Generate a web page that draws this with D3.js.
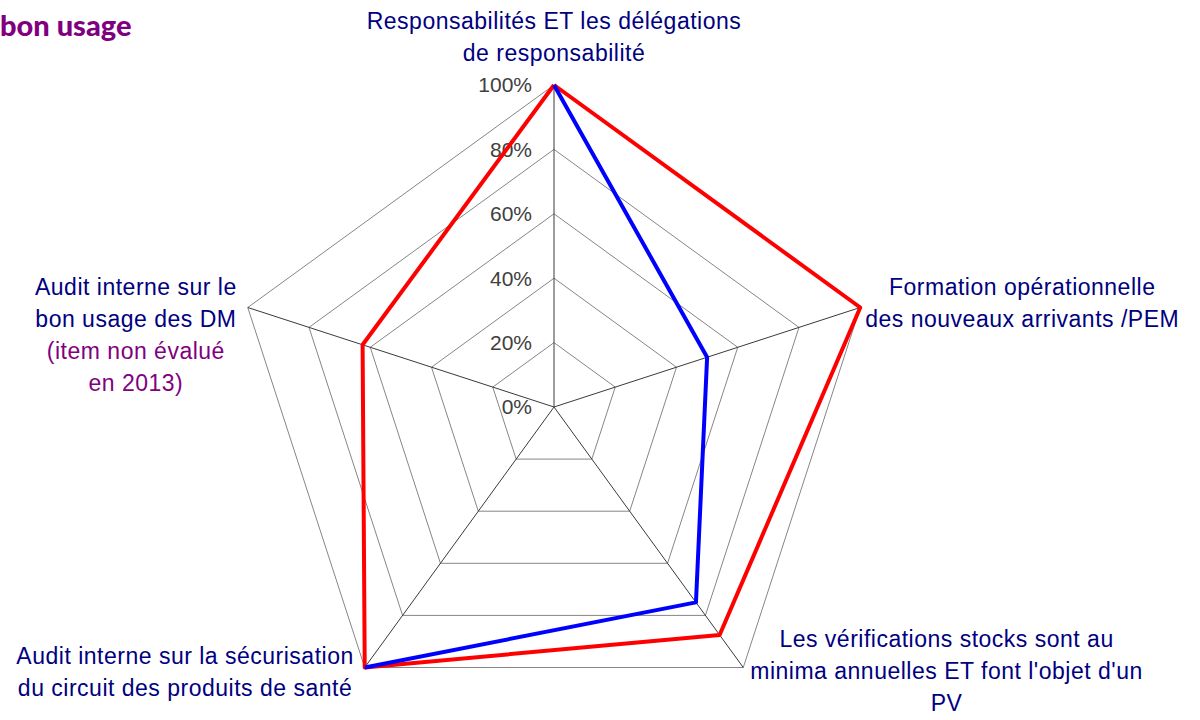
<!DOCTYPE html>
<html>
<head>
<meta charset="utf-8">
<script src="https://cdn.jsdelivr.net/npm/d3@7"></script>
<style>
  body { margin: 0; background: #fff; }
  svg { display: block; }
</style>
</head>
<body>
<div id="chart"></div>
<script>
(function (d3) {

  // axes of the radar, one entry per spoke (clockwise from the top)
  var axisLabels = [
    ["Responsabilités ET les délégations", "de responsabilité"],
    ["Formation opérationnelle", "des nouveaux arrivants /PEM"],
    ["Les vérifications stocks sont au", "minima annuelles ET font l'objet d'un", "PV"],
    ["Audit interne sur la sécurisation", "du circuit des produits de santé"],
    ["Audit interne sur le", "bon usage des DM"]
  ];
  var axisNotes = [[], [], [], [], ["(item non évalué", "en 2013)"]];

  // series values (share of the target reached), null = not evaluated
  var redValues = [1, 1, 0.875, 1, 0.625];
  var blueValues = [1, 0.5, 0.75, 1, null];

  var tickValues = [0, 0.2, 0.4, 0.6, 0.8, 1];
  var titleText = "bon usage";

  // layout
  var width = 1200;
  var height = 720;
  var cx = 554;
  var cy = 407;
  var radius = 322;
  var lineHeight = 32;
  var navy = "#000080";
  var purple = "#800080";

  var n = axisLabels.length;
  var r = d3.scaleLinear().domain([0, 1]).range([0, radius]);
  var angle = function (i) { return i * 2 * Math.PI / n; };
  var pct = d3.format(".0%");

  var svg = d3.select('#chart')
      .append('svg')
      .attr('width', width)
      .attr('height', height);

  var g = svg.append('g')
      .attr('transform', 'translate(' + cx + ',' + cy + ')');

  // grid rings
  var ring = d3.lineRadial()
      .angle(function (d, i) { return angle(i); })
      .radius(function (d) { return r(d); })
      .curve(d3.curveLinearClosed);

  g.selectAll('.ring')
      .data(tickValues.filter(function (t) { return t > 0; }))
      .enter()
      .append('path')
      .attr('class', 'ring')
      .attr('d', function (t) { return ring(d3.range(n).map(function () { return t; })); })
      .attr('fill', 'none')
      .attr('stroke', '#868686')
      .attr('stroke-width', 1);

  // spokes
  g.selectAll('.spoke')
      .data(d3.range(n))
      .enter()
      .append('line')
      .attr('class', 'spoke')
      .attr('x1', 0)
      .attr('y1', 0)
      .attr('x2', function (i) { return r(1) * Math.sin(angle(i)); })
      .attr('y2', function (i) { return -r(1) * Math.cos(angle(i)); })
      .attr('stroke', '#3a3a3a')
      .attr('stroke-width', 1);

  // tick labels along the top spoke
  g.selectAll('.tick')
      .data(tickValues)
      .enter()
      .append('text')
      .attr('class', 'tick')
      .attr('x', -22)
      .attr('y', function (t) { return -r(t); })
      .attr('dy', '0.35em')
      .attr('text-anchor', 'end')
      .attr('font-family', 'Liberation Sans, Arial, sans-serif')
      .attr('font-size', 21)
      .attr('fill', '#404040')
      .text(pct);

  // series
  var line = d3.lineRadial()
      .defined(function (d) { return d.v != null; })
      .angle(function (d) { return angle(d.i); })
      .radius(function (d) { return r(d.v); });

  function closedPoints(values) {
    var pts = values.map(function (v, i) { return { i: i, v: v }; });
    return pts.concat([{ i: n, v: values[0] }]);
  }

  [[redValues, '#ff0000'], [blueValues, '#0000ff']].forEach(function (s) {
    g.append('path')
        .attr('d', line(closedPoints(s[0])))
        .attr('fill', 'none')
        .attr('stroke', s[1])
        .attr('stroke-width', 4)
        .attr('stroke-linejoin', 'round');
  });

  // axis labels
  var labelLayout = [
    { side: 'top', gap: 24 },
    { side: 'right', gap: 5, dy: -12 },
    { side: 'right', gap: 7, dy: -21 },
    { side: 'left', gap: 11, dy: -4 },
    { side: 'left', gap: 11, dy: -12 }
  ];

  axisLabels.forEach(function (lines, i) {
    var vx = r(1) * Math.sin(angle(i));
    var vy = -r(1) * Math.cos(angle(i));
    var rows = lines.map(function (t) { return { t: t, c: navy }; })
        .concat(axisNotes[i].map(function (t) { return { t: t, c: purple }; }));
    var lay = labelLayout[i];

    var txt = g.append('text')
        .attr('text-anchor', 'middle')
        .attr('font-family', 'Liberation Sans, Arial, sans-serif')
        .attr('font-size', 23)
        .attr('letter-spacing', 0.5);

    txt.selectAll('tspan')
        .data(rows)
        .enter()
        .append('tspan')
        .attr('x', 0)
        .attr('y', function (d, k) { return k * lineHeight; })
        .attr('fill', function (d) { return d.c; })
        .text(function (d) { return d.t; });

    var w = txt.node().getBBox().width;
    var tx, ty;
    if (lay.side === 'top') {
      tx = vx;
      ty = vy - lay.gap - lineHeight * (rows.length - 1);
    } else if (lay.side === 'right') {
      tx = vx + lay.gap + w / 2;
      ty = vy + lay.dy;
    } else {
      tx = vx - lay.gap - w / 2;
      ty = vy + lay.dy;
    }
    txt.attr('transform', 'translate(' + tx + ',' + ty + ')');
  });

  // title
  svg.append('text')
      .attr('x', 0)
      .attr('y', 36)
      .attr('font-family', 'Lato, Open Sans, sans-serif')
      .attr('font-weight', 900)
      .attr('font-size', 29)
      .attr('fill', '#7f007f')
      .text(titleText);

})(window.d3);
</script>
</body>
</html>
